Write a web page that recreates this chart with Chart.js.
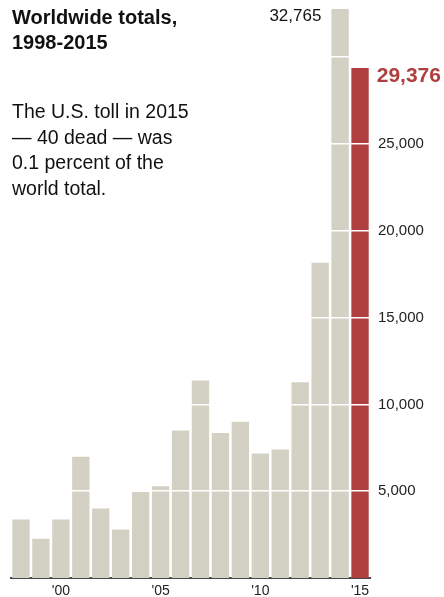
<!DOCTYPE html>
<html>
<head>
<meta charset="utf-8">
<script src="https://cdn.jsdelivr.net/npm/chart.js@4.4.1/dist/chart.umd.min.js"></script>
<style>
  html, body { margin: 0; padding: 0; background: #fff; }
  #wrap { position: relative; width: 444px; height: 597px; }
  #title {
    position: absolute; left: 12px; top: 5px;
    font: bold 20px "Liberation Sans", Arial, sans-serif; line-height: 25px; color: #111;
  }
  #note {
    position: absolute; left: 12px; top: 99px;
    font: 19.5px "Liberation Sans", Arial, sans-serif; line-height: 25.5px; color: #111;
  }
</style>
</head>
<body>
<div id="wrap">
  <canvas id="chart" width="444" height="597"></canvas>
  <div id="title">Worldwide totals,<br>1998-2015</div>
  <div id="note">The U.S. toll in 2015<br>— 40 dead — was<br>0.1 percent of the<br>world total.</div>
</div>
<script>
const years = ["1998", "1999", "2000", "2001", "2002", "2003", "2004", "2005", "2006",
  "2007", "2008", "2009", "2010", "2011", "2012", "2013", "2014", "2015"];
const deaths = [3370, 2260, 3370, 6980, 4000, 2790, 4960, 5290, 8500,
  11380, 8350, 9000, 7170, 7400, 11280, 18160, 32765, 29376];
const yTicks = [5000, 10000, 15000, 20000, 25000, 30000];
const yLabelled = [5000, 10000, 15000, 20000, 25000];
const xLabelled = ["2000", "2005", "2010", "2015"];

const grey = "#d3d0c4";
const red = "#b0403f";

// value labels for the two last bars
const valueLabels = {
  id: "valueLabels",
  afterDraw(chart) {
    const ctx = chart.ctx;
    const bars = chart.getDatasetMeta(0).data;
    const b14 = bars[16], b15 = bars[17];
    ctx.save();
    ctx.textBaseline = "middle";
    ctx.font = "17px 'Liberation Sans', Arial, sans-serif";
    ctx.fillStyle = "#111";
    ctx.textAlign = "right";
    ctx.fillText(deaths[16].toLocaleString("en-US"), b14.x - b14.width / 2 - 10, b14.y + 7);
    ctx.font = "bold 21px 'Liberation Sans', Arial, sans-serif";
    ctx.fillStyle = red;
    ctx.textAlign = "left";
    ctx.fillText(deaths[17].toLocaleString("en-US"), b15.x + b15.width / 2 + 8, b15.y + 8);
    ctx.restore();
  }
};

new Chart(document.getElementById("chart"), {
  type: "bar",
  data: {
    labels: years,
    datasets: [{
      data: deaths,
      backgroundColor: years.map((y, i) => i === years.length - 1 ? red : grey),
      borderWidth: 0,
      categoryPercentage: 1,
      barPercentage: 0.87
    }]
  },
  options: {
    responsive: false,
    animation: false,
    layout: {padding: {left: 11, top: 5, right: 0, bottom: 0}},
    plugins: {legend: {display: false}, tooltip: {enabled: false}},
    scales: {
      x: {
        grid: {display: false, drawTicks: false},
        border: {display: true, color: "#4a4a4a", width: 2},
        afterFit(scale) { scale.height = 19; },
        ticks: {
          autoSkip: false, maxRotation: 0, padding: 5,
          color: "#222", font: {family: "'Liberation Sans', Arial, sans-serif", size: 14},
          callback(v, i) {
            const y = years[i];
            return xLabelled.includes(y) ? "'" + y.slice(2) : "";
          }
        }
      },
      y: {
        position: "right",
        min: 0, max: 33000,
        afterBuildTicks(scale) { scale.ticks = yTicks.map(v => ({value: v})); },
        afterFit(scale) {
          scale.width = 74;
          scale.paddingTop = 0;
          scale.paddingBottom = 0;
        },
        grid: {color: "#ffffff", lineWidth: 1.5, drawTicks: false, z: 1},
        border: {display: false},
        ticks: {
          padding: 8, color: "#222",
          font: {family: "'Liberation Sans', Arial, sans-serif", size: 15},
          callback(v) { return yLabelled.includes(v) ? v.toLocaleString("en-US") : ""; }
        }
      }
    }
  },
  plugins: [valueLabels]
});
</script>
</body>
</html>
